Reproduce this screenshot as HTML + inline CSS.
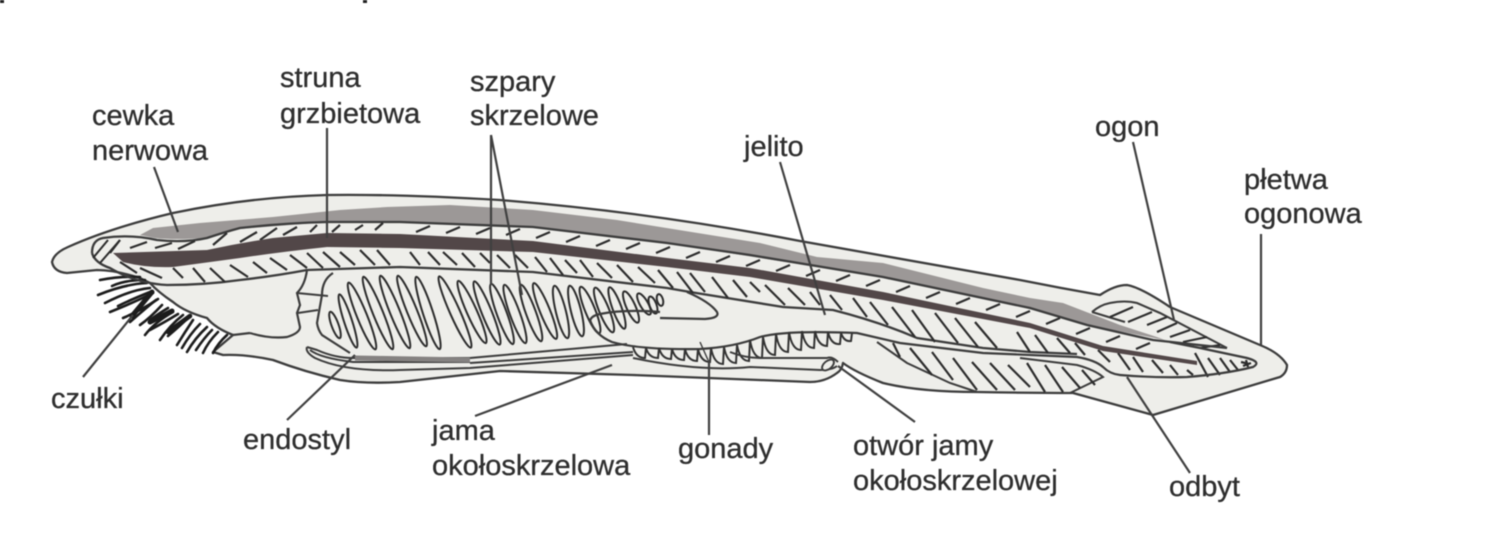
<!DOCTYPE html>
<html><head><meta charset="utf-8"><style>
html,body{margin:0;padding:0;background:#fff;width:1497px;height:540px;overflow:hidden}
svg{display:block;filter:blur(0.6px)}
text{font-family:"Liberation Sans",sans-serif;font-size:29px;fill:#2e2e2e;stroke:#2e2e2e;stroke-width:0.3px}
</style></head><body>
<svg width="1497" height="540" viewBox="0 0 1497 540" xmlns="http://www.w3.org/2000/svg">
<rect x="0" y="0" width="4" height="3" fill="#222"/><rect x="363" y="0" width="4" height="3" fill="#222"/>
<!-- body -->
<path d="M52 262Q54 253 68 247Q110 228 173 213Q250 197 327 195Q400 194 500 200Q650 212 800 241L1020 280Q1060 288 1100 295Q1115 285 1127 285Q1140 287 1170 307L1260 345Q1280 353 1287 365Q1287 373 1280 377L1153 415L1073 393Q1030 393 977 392Q920 392 883 383Q855 372 843 363Q842 370 837 373Q825 382 810 382L633 375L500 371L400 382Q365 384 340 380Q305 372 273 360Q245 354 223 355L213 352L233 335Q215 328 207 318Q185 312 173 302Q158 292 150 283L140 278Q115 270 97 270L67 273Q54 272 52 262Z" fill="#eeeeea" stroke="#3c3c3c" stroke-width="2.3" stroke-linejoin="round"/>
<!-- cirri -->
<g fill="none" stroke="#1c1c1c" stroke-width="2.6" stroke-linecap="round">
<path d="M140 277Q120 276 100 280M147 283Q125 284 98 295M150 288Q130 290 105 303M153 293Q135 302 110 312M158 299Q142 310 123 318M162 305Q150 318 140 325M173 312Q155 322 145 335M183 315Q170 325 160 340M193 320Q185 332 177 345M207 327Q195 338 187 352M218 332Q208 342 203 353M227 335Q218 343 213 353"/>
<path d="M145 280Q125 280 112 286M150 292Q130 300 118 306M156 300Q146 308 130 322M168 308Q158 314 150 320M178 314Q165 322 150 330M188 318Q180 326 168 336M200 324Q190 334 182 348M212 330Q204 338 196 350"/>
<path d="M152 292L132 316M172 311L150 322" stroke-width="5"/>
<path d="M190 316L168 332" stroke-width="4.5"/>
</g>
<path d="M250 333Q270 339 287 337Q300 333 300 327L297 313L300 305L297 293Q305 285 307 270M233 335L250 333" fill="none" stroke="#3c3c3c" stroke-width="2.2"/>
<!-- gray dorsal -->
<path d="M140 235L153 228L200 223L273 217L340 210L387 207L450 205L533 210L617 220L760 243L817 257L883 263L983 288L1030 298L1063 303L1120 325L1160 338L1175 342L1087 325L1030 308L883 277L760 258L667 243L533 227L400 222L327 222L240 229L207 238Q175 240 155 238Z" fill="#9c9897"/>
<!-- caudal lobe -->
<path d="M1092 312Q1100 305 1110 303Q1125 300 1137 303L1160 313L1227 348L1170 342L1092 312Z" fill="#eeeeea"/>
<path d="M1092 312Q1100 305 1110 303Q1125 300 1137 303L1160 313L1227 348M1092 312L1125 322" fill="none" stroke="#3c3c3c" stroke-width="2.1"/>
<path d="M1110 317L1133 307M1128 322L1152 312M1147 325L1167 317M1157 332L1177 323M1170 337L1190 330M1183 342L1207 337M1200 348L1220 345" stroke="#2c2c2c" stroke-width="2.1" fill="none"/>
<!-- band -->
<path d="M92 253Q92 240 103 238Q130 234 157 240Q185 243 207 238Q225 232 240 228Q285 223 327 222L400 222L533 227L667 243L750 255L883 277L1030 308L1087 325L1153 340L1227 348" fill="none" stroke="#3c3c3c" stroke-width="2.3"/>
<path d="M92 253Q95 263 110 268Q135 283 167 285Q205 285 240 280Q275 276 307 270L400 267L533 272L667 288L690 292Q740 300 783 307L833 310Q880 322 917 338L983 348L1030 352L1077 354" fill="none" stroke="#3c3c3c" stroke-width="2.3"/>
<path d="M93 258L108 240M100 263L120 240" stroke="#2c2c2c" stroke-width="2" fill="none"/>
<!-- upper hatches -->
<path stroke="#2c2c2c" stroke-width="2.2" fill="none" d="M120 240L110 253M147 242L130 248M172 243L155 248M195 241L178 249M227 233L213 245M257 232L240 242M277 228L260 240M297 227L283 235M317 225L310 232M340 225L332 232M363 225L355 230M383 223L375 230M430 226l-14 6M460 227l-14 6M490 228l-14 6M520 229l-14 6M550 232l-14 6M580 236l-14 6M610 240l-14 6M640 243l-14 6M670 247l-14 6M700 252l-14 6M730 256l-14 6M760 260l-14 6M790 265l-14 6M820 270l-14 6M850 275l-14 6M880 280l-14 6M910 286l-14 6M940 292l-14 6M970 298l-14 6M1000 304l-14 6M1030 311l-14 6M1060 318l-14 6M1090 328l-14 6M1120 336l-14 6M1150 343l-14 6"/>
<!-- lower hatches -->
<path stroke="#2c2c2c" stroke-width="2.2" fill="none" d="M120 262L137 273M140 268L162 278M173 268L183 278M193 268L205 282M210 268L225 282M230 265L248 277M253 262L267 273M270 258L287 270M290 255L307 268M307 253L323 268M323 252L340 267M340 252L355 265M360 250L375 265M377 250L390 265M410 252L420 265M428 252L440 265M443 252L457 265M462 253L475 267M480 253L490 263M497 255L510 268M515 255L528 268M535 257L547 272M550 258L563 275M565 260L577 273M580 260L593 277M597 263L612 278M617 265L633 282M638 267L655 283M658 270L673 288M677 272L693 293M690 273L705 292M712 277L728 298M733 280L747 297M750 282L760 292M765 285L785 305M788 288L805 305M810 292L820 305M830 295L842 310M853 298L867 317M870 302L888 325M892 307L915 337M912 310L935 342M935 313L958 343M955 318L978 347M975 322L997 348M1017 332L1030 352M1035 335L1048 353M1057 338L1070 353M1075 343L1085 355M1098 350L1110 362M1118 353L1130 370M1133 357L1143 372M1152 360L1163 373M1170 365L1178 375M1187 370L1193 375M1195 353L1208 377M1208 358L1220 375M1220 358L1230 372M1230 360L1238 370"/>
<!-- notochord -->
<path d="M113 253L207 250Q240 243 273 238L327 233L400 234L533 241L667 258L750 268L883 292L1030 323L1103 346L1197 361L1197 365L1103 351L1030 328L883 300L750 277L667 267L533 252L400 248L327 247Q280 252 240 258L173 267Q145 268 123 262Z" fill="#524748"/>
<!-- pharynx -->
<path d="M333 273Q322 280 322 295L317 323Q318 330 322 335L350 353" fill="none" stroke="#3c3c3c" stroke-width="2.2"/>
<path d="M297 293L328 296M298 313L318 310" fill="none" stroke="#3c3c3c" stroke-width="2"/>
<path d="M687 292Q710 302 717 312Q720 318 705 319L660 318" fill="none" stroke="#3c3c3c" stroke-width="2.2"/>
<g fill="#eeeeea" stroke="#2c2c2c" stroke-width="2">
<ellipse cx="335" cy="325" rx="3.5" ry="14" transform="rotate(-20 335 325)"/>
<ellipse cx="348" cy="321" rx="4" ry="28" transform="rotate(-18 348 321)"/>
<ellipse cx="362" cy="316" rx="5" ry="36" transform="rotate(-22 362 316)"/>
<ellipse cx="378" cy="313" rx="5" ry="39" transform="rotate(-22 378 313)"/>
<ellipse cx="395" cy="312" rx="5" ry="39" transform="rotate(-22 395 312)"/>
<ellipse cx="412" cy="311" rx="5" ry="38" transform="rotate(-22 412 311)"/>
<ellipse cx="428" cy="313" rx="5" ry="38" transform="rotate(-18 428 313)"/>
<ellipse cx="455" cy="312" rx="5" ry="39" transform="rotate(-24 455 312)"/>
<ellipse cx="472" cy="312" rx="5" ry="34" transform="rotate(-24 472 312)"/>
<ellipse cx="487" cy="313" rx="5" ry="34" transform="rotate(-22 487 313)"/>
<ellipse cx="502" cy="314" rx="5" ry="32" transform="rotate(-20 502 314)"/>
<ellipse cx="515" cy="314" rx="5" ry="31" transform="rotate(-20 515 314)"/>
<ellipse cx="531" cy="313" rx="5" ry="30" transform="rotate(-20 531 313)"/>
<ellipse cx="545" cy="311" rx="5" ry="30" transform="rotate(-22 545 311)"/>
<ellipse cx="561" cy="312" rx="5" ry="27" transform="rotate(-14 561 312)"/>
<ellipse cx="576" cy="311" rx="5" ry="26" transform="rotate(-14 576 311)"/>
<ellipse cx="590" cy="310" rx="5" ry="25" transform="rotate(-22 590 310)"/>
<ellipse cx="604" cy="310" rx="5" ry="24" transform="rotate(-22 604 310)"/>
<ellipse cx="617" cy="308" rx="4.5" ry="22" transform="rotate(-20 617 308)"/>
<ellipse cx="631" cy="307" rx="4.5" ry="17" transform="rotate(-24 631 307)"/>
<ellipse cx="644" cy="304" rx="4" ry="12" transform="rotate(-30 644 304)"/>
<ellipse cx="653" cy="305" rx="3.5" ry="9" transform="rotate(-20 653 305)"/>
<ellipse cx="660" cy="300" rx="3" ry="6" transform="rotate(-15 660 300)"/>
</g>
<!-- gut -->
<path d="M590 322Q590 316 600 314Q625 309 660 312M590 320Q595 335 612 342Q640 350 700 349Q735 347 760 337Q785 330 857 333L900 343L983 353L1077 357Q1095 360 1103 367Q1110 374 1120 375Q1155 378 1187 377Q1225 374 1253 367Q1262 362 1247 358L1200 348L1170 342" fill="none" stroke="#3c3c3c" stroke-width="2.2"/>
<path d="M877 342L907 363L950 383L977 392M1020 358L1077 365Q1095 370 1103 377L1070 393" fill="none" stroke="#3c3c3c" stroke-width="2"/>
<path stroke="#2c2c2c" stroke-width="2.2" fill="none" d="M893 343L900 357M910 348L932 375M932 352L953 380M953 358L977 390M972 362L997 390M990 363L1015 390M1008 365L1030 387M1027 363L1045 392M1045 365L1063 392M1062 367L1080 388M1082 370L1095 385"/>
<path d="M1241 362l8 2M1243 366l8-3M1246 360l2 7" stroke="#2c2c2c" stroke-width="2.2" fill="none"/>
<!-- gonads -->
<path fill="none" stroke="#333" stroke-width="2" d="M633 347Q636 358 645 358L646 348Q649 358 658 358L659 348Q662 359 671 359L672 349Q675 360 684 360L685 349Q688 361 697 361L698 349Q701 362 710 362L711 348Q714 364 723 364L724 347Q727 363 736 363L737 345Q740 361 749 361L750 340Q753 358 762 358L763 337Q766 355 775 355L776 334Q779 352 788 352L789 332Q792 350 801 350L802 331Q805 348 814 348L815 331Q818 346 827 346L828 332Q831 345 840 344L841 333Q844 342 851 341L852 333"/>
<path d="M700 342l8 18" stroke="#3c3c3c" stroke-width="1.4" fill="none"/>
<!-- endostyle & atrial lines -->
<path d="M307 347L317 350Q335 358 353 358L470 358" fill="none" stroke="#3c3c3c" stroke-width="2"/>
<path d="M310 350Q320 358 353 362L470 362" fill="none" stroke="#3c3c3c" stroke-width="2"/>
<path d="M355 358L470 360" stroke="#858281" stroke-width="5" fill="none"/>
<path d="M470 358L627 344M470 363L633 352M307 347Q305 352 315 358Q345 372 400 370L470 368L633 355" fill="none" stroke="#3c3c3c" stroke-width="2"/>
<path d="M633 358Q700 372 750 367L820 370Q832 370 837 366M730 352Q745 358 760 358L827 358Q832 356 838 362" fill="none" stroke="#3c3c3c" stroke-width="2"/>
<ellipse cx="828" cy="365" rx="7" ry="4" transform="rotate(-40 828 365)" fill="#eeeeea" stroke="#3c3c3c" stroke-width="1.9"/>
<!-- leaders -->
<path fill="none" stroke="#404040" stroke-width="2.2" d="M154 167L178 232M327 128L327 238M491 135L491 285M491 135L522 295M780 162L825 315M1133 142L1174 320M1261 234L1261 345M133 315L83 377M355 355L287 420M612 365L475 416M709 360L709 435M838 366L915 422M1127 377L1190 473"/>
<!-- labels -->
<text x="92" y="125">cewka</text>
<text x="92" y="160">nerwowa</text>
<text x="280" y="87">struna</text>
<text x="280" y="123">grzbietowa</text>
<text x="470" y="91">szpary</text>
<text x="470" y="125">skrzelowe</text>
<text x="744" y="156">jelito</text>
<text x="1095" y="136">ogon</text>
<text x="1244" y="189">płetwa</text>
<text x="1244" y="223">ogonowa</text>
<text x="51" y="408">czułki</text>
<text x="243" y="449">endostyl</text>
<text x="432" y="440">jama</text>
<text x="432" y="475">okołoskrzelowa</text>
<text x="678" y="458">gonady</text>
<text x="853" y="455">otwór jamy</text>
<text x="853" y="490">okołoskrzelowej</text>
<text x="1169" y="496">odbyt</text>
</svg>
</body></html>
